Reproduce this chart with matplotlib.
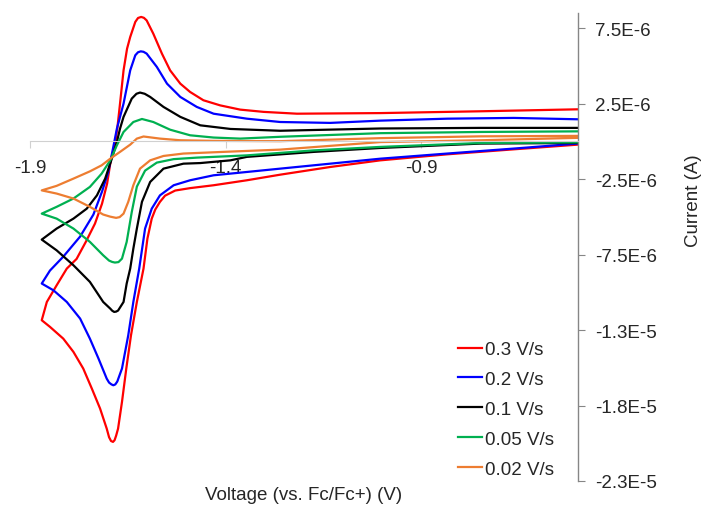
import matplotlib
matplotlib.use("Agg")
import matplotlib.pyplot as plt
from matplotlib.ticker import FixedLocator, FixedFormatter

plt.rcParams['font.family'] = ['Liberation Sans', 'DejaVu Sans']

# scan rates and colours (legend order)
labels = ['0.3 V/s', '0.2 V/s', '0.1 V/s', '0.05 V/s', '0.02 V/s']
colors = ['#ff0000', '#0000ff', '#000000', '#00b050', '#ed7d31']

# potential (V vs Fc/Fc+) and current (uA)
# each trace: cathodic sweep right->left, then anodic sweep left->right
v_03 = [-0.501, -0.664, -0.834, -1.005, -1.133, -1.261, -1.346, -1.431, -1.491, -1.529,
        -1.555, -1.568, -1.580, -1.589, -1.600, -1.610, -1.627, -1.642, -1.654, -1.665,
        -1.675, -1.680, -1.684, -1.688, -1.693, -1.698, -1.704, -1.721, -1.742, -1.764,
        -1.789, -1.815, -1.849, -1.870,
        -1.857, -1.832, -1.806, -1.781, -1.757, -1.734, -1.716, -1.703, -1.693, -1.684,
        -1.677, -1.670, -1.661, -1.652, -1.644, -1.631, -1.624, -1.616, -1.609, -1.602,
        -1.585, -1.563, -1.542, -1.516, -1.491, -1.457, -1.414, -1.363, -1.303, -1.218,
        -1.005, -0.749, -0.501]
i_03 = [-0.22, -0.53, -0.86, -1.26, -1.70, -2.21, -2.58, -2.91, -3.10, -3.26,
        -3.60, -4.01, -4.52, -5.12, -6.44, -8.43, -10.64, -12.85, -15.05, -17.26,
        -19.03, -19.50, -19.80, -19.91, -19.85, -19.60, -19.03, -17.70, -16.38, -15.05,
        -13.95, -13.07, -12.29, -11.85,
        -10.64, -9.54, -8.43, -7.79, -6.64, -5.45, -4.13, -2.80, -1.15, -0.37,
        0.84, 2.50, 4.70, 6.14, 6.91, 7.91, 8.17, 8.24, 8.18, 8.01,
        7.13, 5.81, 4.70, 3.82, 3.27, 2.72, 2.38, 2.10, 1.95, 1.83,
        1.87, 1.99, 2.12]

v_02 = [-0.501, -0.664, -0.834, -1.005, -1.133, -1.261, -1.346, -1.431, -1.491, -1.533,
        -1.568, -1.589, -1.606, -1.621, -1.636, -1.649, -1.665, -1.677, -1.682, -1.687,
        -1.692, -1.698, -1.704, -1.725, -1.747, -1.772, -1.806, -1.840, -1.870,
        -1.849, -1.815, -1.772, -1.738, -1.716, -1.700, -1.688, -1.678, -1.661, -1.644,
        -1.631, -1.624, -1.617, -1.610, -1.602, -1.576, -1.550, -1.516, -1.474, -1.431,
        -1.346, -1.261, -1.133, -1.005, -0.834, -0.664, -0.501]
i_02 = [-0.15, -0.48, -0.81, -1.15, -1.48, -1.81, -2.03, -2.25, -2.58, -2.91,
        -3.58, -4.46, -5.78, -8.43, -10.64, -12.85, -15.05, -15.91, -16.10, -16.16,
        -16.10, -15.98, -15.72, -14.39, -13.07, -11.74, -10.64, -9.87, -9.42,
        -8.56, -7.64, -6.31, -4.85, -3.33, -2.03, -0.48, 0.84, 2.50, 4.70,
        5.70, 5.90, 5.96, 5.93, 5.81, 4.93, 3.82, 2.94, 2.28, 1.83,
        1.50, 1.28, 1.22, 1.37, 1.50, 1.55, 1.46]

v_01 = [-0.501, -0.749, -1.005, -1.175, -1.346, -1.388, -1.465, -1.508, -1.559, -1.593,
        -1.614, -1.627, -1.636, -1.644, -1.653, -1.661, -1.675, -1.680, -1.685, -1.690,
        -1.695, -1.713, -1.747, -1.789, -1.832, -1.870,
        -1.832, -1.789, -1.755, -1.729, -1.708, -1.691, -1.678, -1.670, -1.661, -1.640,
        -1.628, -1.619, -1.607, -1.593, -1.559, -1.516, -1.465, -1.388, -1.261, -1.005,
        -0.749, -0.501]
i_01 = [-0.11, -0.15, -0.44, -0.70, -1.03, -1.26, -1.44, -1.48, -1.81, -2.69,
        -4.01, -5.78, -7.11, -8.43, -9.42, -10.64, -11.21, -11.28, -11.30, -11.22,
        -11.08, -10.64, -9.31, -8.21, -7.22, -6.51,
        -5.78, -5.12, -4.46, -3.58, -2.47, -1.15, -0.04, 0.84, 1.62, 2.83,
        3.15, 3.23, 3.15, 2.94, 2.28, 1.62, 1.06, 0.82, 0.70, 0.85,
        0.89, 0.89]

v_005 = [-0.501, -0.749, -1.005, -1.175, -1.346, -1.388, -1.474, -1.533, -1.576, -1.606,
         -1.627, -1.640, -1.653, -1.665, -1.674, -1.683, -1.690, -1.698, -1.713, -1.747,
         -1.789, -1.832, -1.870,
         -1.832, -1.789, -1.747, -1.717, -1.695, -1.678, -1.661, -1.636, -1.614, -1.585,
         -1.542, -1.491, -1.431, -1.363, -1.261, -1.005, -0.749, -0.501]
i_005 = [-0.07, -0.11, -0.37, -0.60, -0.93, -0.98, -1.08, -1.18, -1.41, -1.94,
         -3.00, -4.68, -6.66, -7.77, -8.00, -8.03, -7.99, -7.90, -7.55, -6.66,
         -5.78, -5.12, -4.79,
         -4.34, -3.79, -3.02, -2.14, -1.26, -0.26, 0.62, 1.28, 1.48, 1.28,
         0.77, 0.40, 0.25, 0.18, 0.30, 0.54, 0.62, 0.66]

v_002 = [-0.501, -0.749, -1.005, -1.261, -1.388, -1.508, -1.559, -1.593, -1.619, -1.636,
         -1.649, -1.661, -1.671, -1.680, -1.695, -1.713, -1.747, -1.789, -1.832, -1.870,
         -1.832, -1.789, -1.747, -1.717, -1.695, -1.670, -1.644, -1.627, -1.610, -1.568,
         -1.516, -1.431, -1.261, -1.005, -0.749, -0.501]
i_002 = [0.23, 0.07, -0.05, -0.55, -0.68, -0.81, -0.97, -1.26, -1.81, -2.91,
         -4.01, -4.79, -5.02, -5.07, -4.99, -4.85, -4.34, -3.79, -3.46, -3.25,
         -2.95, -2.47, -1.99, -1.59, -1.15, -0.70, -0.22, 0.18, 0.32, 0.18,
         0.07, 0.03, 0.01, 0.21, 0.33, 0.36]

voltages = [v_03, v_02, v_01, v_005, v_002]
currents = [i_03, i_02, i_01, i_005, i_002]

x_ticks = [-1.9, -1.4, -0.9]
y_ticks = [7.5e-6, 2.5e-6, -2.5e-6, -7.5e-6, -12.5e-6, -17.5e-6, -22.5e-6]
y_tick_labels = ['7.5E-6', '2.5E-6', '-2.5E-6', '-7.5E-6', '-1.3E-5', '-1.8E-5', '-2.3E-5']

fs = 13.5
fig = plt.figure(figsize=(7.05, 5.06), dpi=100)
ax = fig.add_axes([30 / 705, 1 - 482 / 506, 548 / 705, 468 / 506])

for v, i, c, lab in zip(voltages, currents, colors, labels):
    ax.plot(v, [val * 1e-6 for val in i], color=c, linewidth=1.6, label=lab,
            solid_joinstyle='round')

ax.set_xlim(-1.9, -0.5)
ax.set_ylim(-22.5e-6, 8.5e-6)

# horizontal axis crosses at zero, vertical axis on the right edge
ax.spines['left'].set_visible(False)
ax.spines['top'].set_visible(False)
ax.spines['bottom'].set_position(('data', 0))
ax.spines['bottom'].set_color('#d0d0d0')
ax.spines['right'].set_color('#868686')
ax.spines['right'].set_linewidth(1.0)

ax.set_xticks(x_ticks)
ax.set_xticklabels([str(t) for t in x_ticks])
ax.tick_params(axis='x', direction='out', length=5, color='#d0d0d0', pad=8,
               labelsize=fs, labelcolor='#262626')

ax.yaxis.tick_right()
ax.yaxis.set_major_locator(FixedLocator(y_ticks))
ax.yaxis.set_major_formatter(FixedFormatter(y_tick_labels))
ax.tick_params(axis='y', direction='out', length=5, color='#868686', pad=7,
               labelsize=fs, labelcolor='#262626')

fig.text(693 / 705, 1 - 201 / 506, 'Current (A)', rotation=90, ha='center', va='center',
         fontsize=fs, color='#262626')
fig.text(304 / 705, 1 - 496 / 506, 'Voltage (vs. Fc/Fc+) (V)', ha='center', va='center',
         fontsize=fs, color='#262626')

leg = ax.legend(loc='upper left', bbox_to_anchor=(458 / 705, 1 - 342 / 506),
                bbox_transform=fig.transFigure, frameon=False, fontsize=fs,
                handlelength=1.3, handletextpad=0.15, labelspacing=0.68,
                borderaxespad=0, borderpad=0)
for t in leg.get_texts():
    t.set_color('#262626')

fig.savefig('out.png', dpi=100)
